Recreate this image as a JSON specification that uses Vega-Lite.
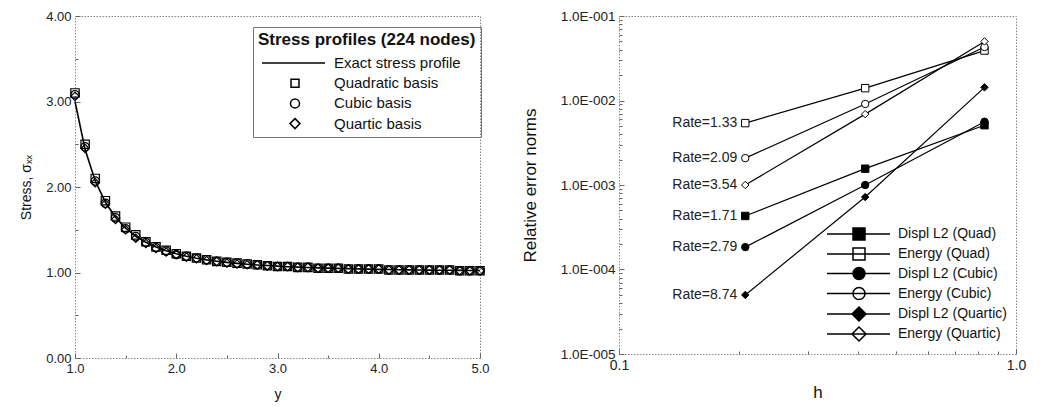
{
  "$schema": "https://vega.github.io/schema/vega-lite/v6.json",
  "background": "white",
  "padding": {"left": 19, "top": 8, "right": 5, "bottom": 0},
  "spacing": 30,
  "resolve": {"scale": {"shape": "independent", "fill": "independent"}, "legend": {"shape": "independent", "fill": "independent"}},
  "config": {
    "font": "Liberation Sans",
    "view": {"stroke": "#888", "strokeDash": [1.5, 1.5]},
    "axis": {"domain": false, "grid": false, "tickColor": "#666", "labelColor": "#222", "labelFontSize": 13, "titleColor": "#111", "titleFontWeight": "normal", "labelFont": "Liberation Sans", "titleFont": "Liberation Sans", "labelFlush": false},
    "legend": {"labelFont": "Liberation Sans", "titleFont": "Liberation Sans", "labelColor": "#111", "titleColor": "#111"}
  },
  "hconcat": [
    {
      "width": 405,
      "height": 342,
      "resolve": {"scale": {"shape": "independent"}},
      "data": {"values": [
        {"y": 1.0, "exact": 3.0, "quad": 3.10, "cubic": 3.08, "quartic": 3.06},
        {"y": 1.1, "exact": 2.438, "quad": 2.50, "cubic": 2.47, "quartic": 2.45},
        {"y": 1.2, "exact": 2.071, "quad": 2.10, "cubic": 2.07, "quartic": 2.05},
        {"y": 1.3, "exact": 1.821, "quad": 1.84, "cubic": 1.81, "quartic": 1.80},
        {"y": 1.4, "exact": 1.646, "quad": 1.66, "cubic": 1.64, "quartic": 1.62},
        {"y": 1.5, "exact": 1.519, "quad": 1.53, "cubic": 1.51, "quartic": 1.50},
        {"y": 1.6, "exact": 1.424, "quad": 1.44, "cubic": 1.42, "quartic": 1.40},
        {"y": 1.7, "exact": 1.353, "quad": 1.36, "cubic": 1.35, "quartic": 1.34},
        {"y": 1.8, "exact": 1.297, "quad": 1.30, "cubic": 1.29, "quartic": 1.28},
        {"y": 1.9, "exact": 1.254, "quad": 1.26, "cubic": 1.25, "quartic": 1.24},
        {"y": 2.0, "exact": 1.219, "quad": 1.22, "cubic": 1.21, "quartic": 1.21},
        {"y": 2.1, "exact": 1.191, "quad": 1.19, "cubic": 1.19, "quartic": 1.18},
        {"y": 2.2, "exact": 1.167, "quad": 1.17, "cubic": 1.17, "quartic": 1.16},
        {"y": 2.3, "exact": 1.148, "quad": 1.15, "cubic": 1.15, "quartic": 1.14},
        {"y": 2.4, "exact": 1.132, "quad": 1.13, "cubic": 1.13, "quartic": 1.13},
        {"y": 2.5, "exact": 1.118, "quad": 1.12, "cubic": 1.12, "quartic": 1.11},
        {"y": 2.6, "exact": 1.107, "quad": 1.11, "cubic": 1.11, "quartic": 1.10},
        {"y": 2.7, "exact": 1.097, "quad": 1.10, "cubic": 1.10, "quartic": 1.09},
        {"y": 2.8, "exact": 1.088, "quad": 1.09, "cubic": 1.09, "quartic": 1.09},
        {"y": 2.9, "exact": 1.081, "quad": 1.08, "cubic": 1.08, "quartic": 1.08},
        {"y": 3.0, "exact": 1.074, "quad": 1.07, "cubic": 1.07, "quartic": 1.07},
        {"y": 3.1, "exact": 1.068, "quad": 1.07, "cubic": 1.07, "quartic": 1.07},
        {"y": 3.2, "exact": 1.063, "quad": 1.06, "cubic": 1.06, "quartic": 1.06},
        {"y": 3.3, "exact": 1.059, "quad": 1.06, "cubic": 1.06, "quartic": 1.06},
        {"y": 3.4, "exact": 1.054, "quad": 1.05, "cubic": 1.05, "quartic": 1.05},
        {"y": 3.5, "exact": 1.051, "quad": 1.05, "cubic": 1.05, "quartic": 1.05},
        {"y": 3.6, "exact": 1.048, "quad": 1.05, "cubic": 1.05, "quartic": 1.05},
        {"y": 3.7, "exact": 1.045, "quad": 1.04, "cubic": 1.04, "quartic": 1.04},
        {"y": 3.8, "exact": 1.042, "quad": 1.04, "cubic": 1.04, "quartic": 1.04},
        {"y": 3.9, "exact": 1.039, "quad": 1.04, "cubic": 1.04, "quartic": 1.04},
        {"y": 4.0, "exact": 1.037, "quad": 1.04, "cubic": 1.04, "quartic": 1.04},
        {"y": 4.1, "exact": 1.035, "quad": 1.03, "cubic": 1.03, "quartic": 1.03},
        {"y": 4.2, "exact": 1.033, "quad": 1.03, "cubic": 1.03, "quartic": 1.03},
        {"y": 4.3, "exact": 1.031, "quad": 1.03, "cubic": 1.03, "quartic": 1.03},
        {"y": 4.4, "exact": 1.030, "quad": 1.03, "cubic": 1.03, "quartic": 1.03},
        {"y": 4.5, "exact": 1.028, "quad": 1.03, "cubic": 1.03, "quartic": 1.03},
        {"y": 4.6, "exact": 1.027, "quad": 1.03, "cubic": 1.03, "quartic": 1.03},
        {"y": 4.7, "exact": 1.026, "quad": 1.03, "cubic": 1.03, "quartic": 1.03},
        {"y": 4.8, "exact": 1.025, "quad": 1.02, "cubic": 1.02, "quartic": 1.02},
        {"y": 4.9, "exact": 1.023, "quad": 1.02, "cubic": 1.02, "quartic": 1.02},
        {"y": 5.0, "exact": 1.022, "quad": 1.02, "cubic": 1.02, "quartic": 1.02}
      ]},
      "layer": [
        {
          "mark": {"type": "line", "color": "black", "strokeWidth": 1.6},
          "encoding": {
            "x": {"field": "y", "type": "quantitative", "scale": {"domain": [1, 5], "nice": false},
              "axis": {"title": "y", "titleFontSize": 14, "titlePadding": 12, "values": [1, 1.5, 2, 2.5, 3, 3.5, 4, 4.5, 5], "labelExpr": "datum.value % 1 == 0 ? format(datum.value, '.1f') : ''", "labelPadding": 9, "tickSize": {"condition": {"test": "datum.value % 1 == 0", "value": -5}, "value": -3}}},
            "y": {"field": "exact", "type": "quantitative", "scale": {"domain": [0, 4], "nice": false},
              "axis": {"title": "Stress, σₓₓ", "titleFontSize": 14, "titlePadding": 12, "values": [0, 0.5, 1, 1.5, 2, 2.5, 3, 3.5, 4], "labelExpr": "datum.value % 1 == 0 ? format(datum.value, '.2f') : ''", "labelPadding": 9, "tickSize": {"condition": {"test": "datum.value % 1 == 0", "value": -5}, "value": -3}}}
          }
        },
        {
          "transform": [{"fold": ["quad", "cubic", "quartic"], "as": ["series", "val"]}],
          "mark": {"type": "point", "filled": false, "stroke": "black", "strokeWidth": 1.2, "opacity": 1, "size": 70},
          "encoding": {
            "x": {"field": "y", "type": "quantitative"},
            "y": {"field": "val", "type": "quantitative"},
            "shape": {"field": "series", "type": "nominal", "legend": null,
              "scale": {"domain": ["quad", "cubic", "quartic"], "range": ["square", "circle", "diamond"]}}
          }
        },
        {
          "transform": [{"filter": "false"}],
          "mark": {"type": "point", "filled": false, "stroke": "black", "strokeWidth": 1.2, "opacity": 1, "size": 400},
          "encoding": {
            "x": {"field": "y", "type": "quantitative"},
            "y": {"field": "exact", "type": "quantitative"},
            "shape": {"field": "series", "type": "nominal",
              "scale": {"domain": ["exact", "quad", "cubic", "quartic"], "range": ["M-0.7,0H5.6", "M2.2,-0.4H3V0.4H2.2Z", "M3.05,0A0.45,0.45,0,1,1,2.15,0A0.45,0.45,0,1,1,3.05,0Z", "M2.6,-0.5L3.1,0L2.6,0.5L2.1,0Z"]},
              "legend": {"title": "Stress profiles (224 nodes)", "orient": "none", "legendX": 178, "legendY": 11, "titleFontSize": 17, "titleFontWeight": "bold", "titleLimit": 400, "labelLimit": 300, "labelFontSize": 15, "padding": 5, "strokeColor": "#777", "rowPadding": 1.2, "labelOffset": 54, "symbolSize": 400, "titlePadding": 3,
                "labelExpr": "datum.value == 'exact' ? 'Exact stress profile' : datum.value == 'quad' ? 'Quadratic basis' : datum.value == 'cubic' ? 'Cubic basis' : 'Quartic basis'",
                "encode": {"legend": {"update": {"strokeDash": {"value": [1.5, 1.5]}}}}}}
          }
        }
      ]
    },
    {
      "width": 397,
      "height": 338,
      "resolve": {"scale": {"shape": "independent"}, "legend": {"shape": "independent"}},
      "data": {"values": [
        {"h": 0.208, "err": 0.00043, "series": "Displ L2 (Quad)", "rate": "Rate=1.71"},
        {"h": 0.417, "err": 0.00156, "series": "Displ L2 (Quad)", "rate": ""},
        {"h": 0.833, "err": 0.0051, "series": "Displ L2 (Quad)", "rate": ""},
        {"h": 0.208, "err": 0.0054, "series": "Energy (Quad)", "rate": "Rate=1.33"},
        {"h": 0.417, "err": 0.014, "series": "Energy (Quad)", "rate": ""},
        {"h": 0.833, "err": 0.039, "series": "Energy (Quad)", "rate": ""},
        {"h": 0.208, "err": 0.000184, "series": "Displ L2 (Cubic)", "rate": "Rate=2.79"},
        {"h": 0.417, "err": 0.001, "series": "Displ L2 (Cubic)", "rate": ""},
        {"h": 0.833, "err": 0.0056, "series": "Displ L2 (Cubic)", "rate": ""},
        {"h": 0.208, "err": 0.00208, "series": "Energy (Cubic)", "rate": "Rate=2.09"},
        {"h": 0.417, "err": 0.0091, "series": "Energy (Cubic)", "rate": ""},
        {"h": 0.833, "err": 0.043, "series": "Energy (Cubic)", "rate": ""},
        {"h": 0.208, "err": 0.00005, "series": "Displ L2 (Quartic)", "rate": "Rate=8.74"},
        {"h": 0.417, "err": 0.00072, "series": "Displ L2 (Quartic)", "rate": ""},
        {"h": 0.833, "err": 0.0143, "series": "Displ L2 (Quartic)", "rate": ""},
        {"h": 0.208, "err": 0.001, "series": "Energy (Quartic)", "rate": "Rate=3.54"},
        {"h": 0.417, "err": 0.0069, "series": "Energy (Quartic)", "rate": ""},
        {"h": 0.833, "err": 0.05, "series": "Energy (Quartic)", "rate": ""}
      ]},
      "encoding": {
        "x": {"field": "h", "type": "quantitative", "scale": {"type": "log", "domain": [0.1, 1], "nice": false},
          "axis": {"title": "h", "titleFontSize": 17, "titlePadding": 12, "values": [0.1, 0.2, 0.3, 0.4, 0.5, 0.6, 0.7, 0.8, 0.9, 1], "labelExpr": "datum.value == 0.1 ? '0.1' : datum.value == 1 ? '1.0' : ''", "labelPadding": 9, "labelFontSize": 14, "tickSize": {"condition": {"test": "datum.value == 0.1 || datum.value == 1", "value": -5}, "value": -3}}},
        "y": {"field": "err", "type": "quantitative", "scale": {"type": "log", "domain": [0.00001, 0.1], "nice": false},
          "axis": {"title": "Relative error norms", "titleFontSize": 17, "titlePadding": 21, "labelFontSize": 13.5, "labelPadding": 9,
            "values": [0.00001, 0.00002, 0.00003, 0.00004, 0.00005, 0.00006, 0.00007, 0.00008, 0.00009, 0.0001, 0.0002, 0.0003, 0.0004, 0.0005, 0.0006, 0.0007, 0.0008, 0.0009, 0.001, 0.002, 0.003, 0.004, 0.005, 0.006, 0.007, 0.008, 0.009, 0.01, 0.02, 0.03, 0.04, 0.05, 0.06, 0.07, 0.08, 0.09, 0.1],
            "labelExpr": "abs(log(datum.value)/LN10 - round(log(datum.value)/LN10)) < 0.000001 ? '1.0E-00' + (-round(log(datum.value)/LN10)) : ''",
            "tickSize": {"condition": {"test": "abs(log(datum.value)/LN10 - round(log(datum.value)/LN10)) < 0.000001", "value": -5}, "value": -3}}}
      },
      "layer": [
        {"mark": {"type": "line", "color": "black", "strokeWidth": 1.2}, "encoding": {"detail": {"field": "series"}}},
        {
          "mark": {"type": "point", "filled": true, "stroke": "black", "strokeWidth": 1, "opacity": 1, "size": 55},
          "encoding": {
            "shape": {"field": "series", "type": "nominal", "legend": null,
              "scale": {"domain": ["Displ L2 (Quad)", "Energy (Quad)", "Displ L2 (Cubic)", "Energy (Cubic)", "Displ L2 (Quartic)", "Energy (Quartic)"], "range": ["square", "square", "circle", "circle", "diamond", "diamond"]}},
            "fill": {"field": "series", "type": "nominal", "legend": null,
              "scale": {"domain": ["Displ L2 (Quad)", "Energy (Quad)", "Displ L2 (Cubic)", "Energy (Cubic)", "Displ L2 (Quartic)", "Energy (Quartic)"], "range": ["black", "white", "black", "white", "black", "white"]}}
          }
        },
        {
          "transform": [{"filter": "false"}],
          "mark": {"type": "point", "filled": true, "fill": "black", "stroke": "black", "strokeWidth": 1.2, "opacity": 1, "size": 400},
          "encoding": {
            "shape": {"field": "series", "type": "nominal",
              "scale": {"domain": ["Displ L2 (Quad)", "Displ L2 (Cubic)", "Displ L2 (Quartic)"],
                "range": ["M-1,0H5.3M1.6,-0.6H2.8V0.6H1.6Z", "M-1,0H5.3M2.8,0A0.6,0.6,0,1,1,1.6,0A0.6,0.6,0,1,1,2.8,0Z", "M-1,0H5.3M2.2,-0.7L2.9,0L2.2,0.7L1.5,0Z"]},
              "legend": {"title": null, "orient": "none", "legendX": 207, "legendY": 207, "labelFontSize": 14, "symbolSize": 400, "rowPadding": 19.5, "labelOffset": 50, "padding": 0}}
          }
        },
        {
          "transform": [{"filter": "false"}],
          "mark": {"type": "point", "filled": true, "fill": "white", "stroke": "black", "strokeWidth": 1.2, "opacity": 1, "size": 400},
          "encoding": {
            "shape": {"field": "series", "type": "nominal",
              "scale": {"domain": ["Energy (Quad)", "Energy (Cubic)", "Energy (Quartic)"],
                "range": ["M-1,0H5.3M1.6,-0.6H2.8V0.6H1.6Z", "M-1,0H5.3M2.8,0A0.6,0.6,0,1,1,1.6,0A0.6,0.6,0,1,1,2.8,0Z", "M-1,0H5.3M2.2,-0.7L2.9,0L2.2,0.7L1.5,0Z"]},
              "legend": {"title": null, "orient": "none", "legendX": 207, "legendY": 227, "labelFontSize": 14, "symbolSize": 400, "rowPadding": 19.5, "labelOffset": 50, "padding": 0}}
          }
        },
        {
          "mark": {"type": "text", "align": "right", "baseline": "middle", "dx": -8, "fontSize": 14, "color": "#222"},
          "encoding": {"text": {"field": "rate"}}
        }
      ]
    }
  ]
}
